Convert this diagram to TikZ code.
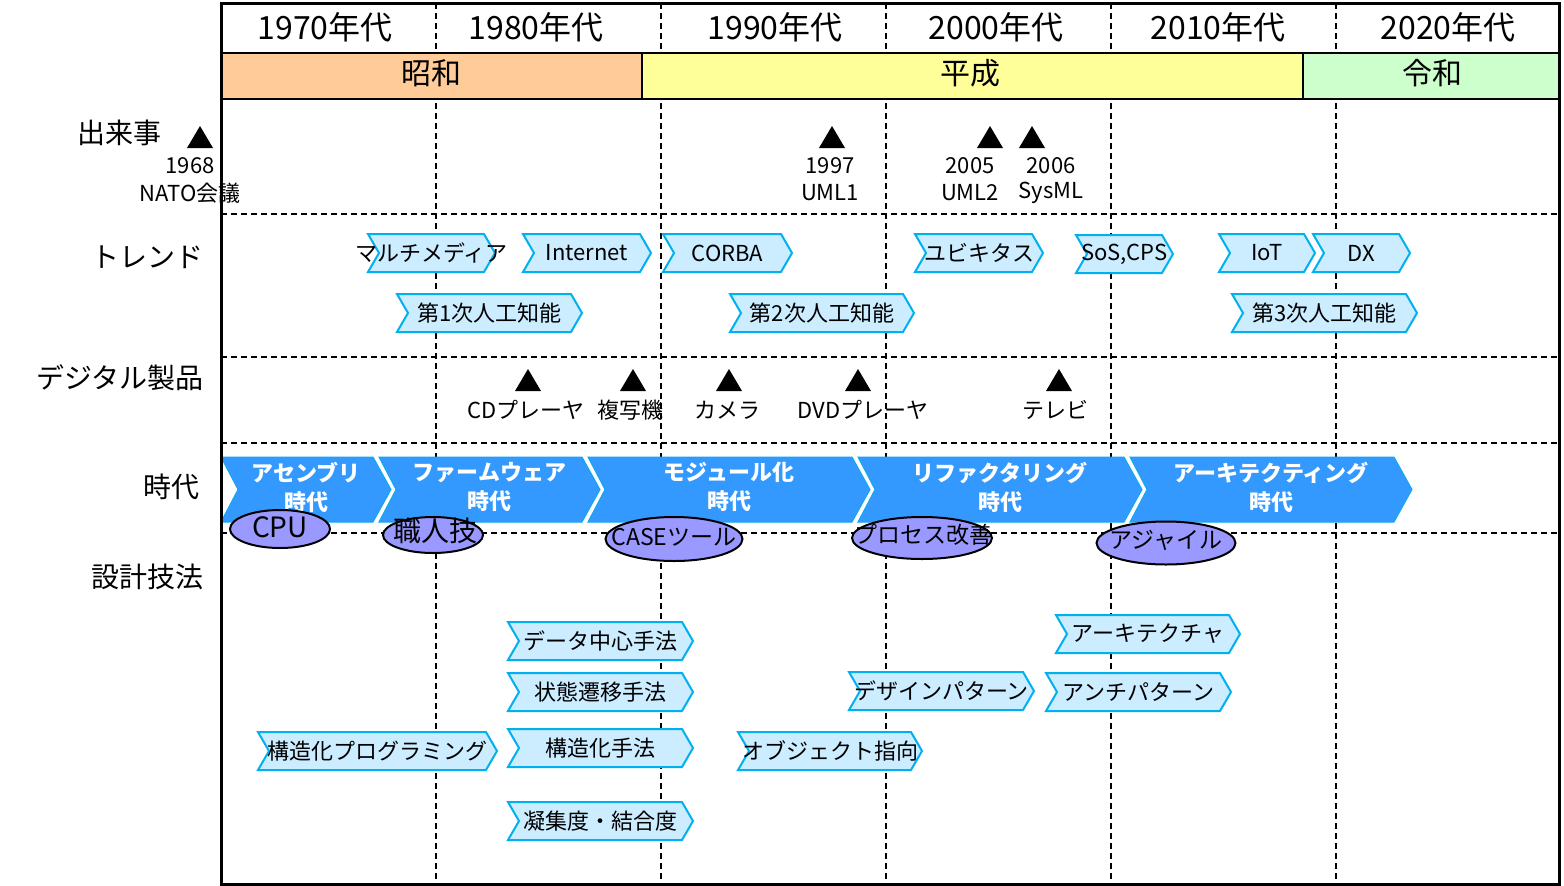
\documentclass[tikz,border=0pt]{standalone}
\usepackage{fontspec}
\setmainfont{Noto Sans CJK JP}
\usetikzlibrary{shapes.geometric}
\definecolor{showa}{HTML}{FFCC99}
\definecolor{heisei}{HTML}{FFFF99}
\definecolor{reiwa}{HTML}{CCFFCC}
\definecolor{lbfill}{HTML}{CCECFF}
\definecolor{lbdraw}{HTML}{00B0F0}
\definecolor{arrblue}{HTML}{3399FF}
\definecolor{arredge}{HTML}{10A8F0}
\definecolor{ellfill}{HTML}{9999FF}
\newcommand\myfs[1]{\fontsize{#1}{#1}\selectfont}
\newcommand\mytri[2]{\fill ({#1-13},{#2+11}) -- ({#1+13},{#2+11}) -- (#1,{#2-11}) -- cycle;}
% light-blue chevron: name, left, point, top, text
\newcommand\lbchev[5]{%
  \path[lb] (#2,#4) -- ({#3-11},#4) -- (#3,{#4+19}) -- ({#3-11},{#4+38}) -- (#2,{#4+38}) -- ({#2+11},{#4+19}) -- cycle;
  \node[lbt] (#1) at ({(#2+#3)/2},{#4+19}) {#5};}
% era arrow: name, left, right, text
\newcommand\myarrow[4]{%
  \path[arr] (#2,457) -- (#3,457) -- ({#3+18},489.5) -- (#3,522) -- (#2,522) -- ({#2+17},489.5) -- cycle;
  \node[arrt] (#1) at ({(#2+#3+18)/2},487) {#4\\時代};}
\begin{document}
\begin{tikzpicture}[x=1pt,y=-1pt,
  dl/.style={line width=1.8pt, dash pattern=on 6pt off 4pt},
  lb/.style={fill=lbfill, draw=lbdraw, line width=2pt, line join=miter},
  lbt/.style={font={\myfs{22}}, inner sep=0pt},
  erabox/.style={draw=black, line width=2pt},
  arr/.style={fill=arrblue, draw=arredge, line width=1pt},
  arrt/.style={font={\fontsize{22}{29}\selectfont\bfseries}, text=white, align=center, inner sep=0pt},
  ell/.style={ellipse, draw=black, line width=2pt, fill=ellfill, inner sep=0pt},
  ellt/.style={inner sep=0pt},
  lab/.style={font={\myfs{28}}, anchor=east, inner sep=0pt},
  evt/.style={font={\myfs{22}}, inner sep=0pt},
  dec/.style={font={\myfs{32}}, inner sep=0pt},
  ert/.style={font={\myfs{30}}, inner sep=0pt}]
\useasboundingbox (0,0) rectangle (1564,886);
\fill[white] (0,0) rectangle (1564,886);

% grid
\foreach \x in {436,661,886,1111,1336} \draw[dl] (\x,3) -- (\x,884);
\foreach \y in {214,357,443,533} \draw[dl] (221,\y) -- (1559,\y);

% header decades
\node[dec] (d70) at (325,27) {1970年代};
\node[dec] (d80) at (536,27) {1980年代};
\node[dec] (d90) at (775,27) {1990年代};
\node[dec] (d00) at (996,27) {2000年代};
\node[dec] (d10) at (1218,27) {2010年代};
\node[dec] (d20) at (1448,27) {2020年代};

% eras
\path[erabox, fill=showa] (221,53) rectangle (642,99);
\path[erabox, fill=heisei] (642,53) rectangle (1303,99);
\path[erabox, fill=reiwa] (1303,53) rectangle (1559,99);
\node[ert] (showa) at (431,73) {昭和};
\node[ert] (heisei) at (970,73) {平成};
\node[ert] (reiwa) at (1432,73) {令和};

% row labels
\node[lab] (lev) at (162,133) {出来事};
\node[lab] (ltr) at (204,257) {トレンド};
\node[lab] (ldg) at (204,378) {デジタル製品};
\node[lab] (lji) at (200,487) {時代};
\node[lab] (lsk) at (204,577) {設計技法};

% events
\mytri{200}{137}
\mytri{832}{137}
\mytri{990}{137}
\mytri{1032}{137}
\node[evt] (e68a) at (190,166) {1968};
\node[evt] (e68b) at (190,193) {NATO会議};
\node[evt] (e97a) at (830,166) {1997};
\node[evt] (e97b) at (830,193) {UML1};
\node[evt] (e05a) at (970,166) {2005};
\node[evt] (e05b) at (970,193) {UML2};
\node[evt] (e06a) at (1051,166) {2006};
\node[evt] (e06b) at (1051,193) {SysML};

% trends
\lbchev{mm}{368}{495}{234}{マルチメディア}
\lbchev{inet}{523}{651}{234}{Internet}
\lbchev{corba}{663}{792}{234}{CORBA}
\lbchev{ubi}{915}{1043}{234}{ユビキタス}
\lbchev{sos}{1076}{1173}{235}{SoS,CPS}
\lbchev{iot}{1219}{1315}{234}{IoT}
\lbchev{dx}{1313}{1410}{234}{DX}
\lbchev{ai1}{397}{582}{294}{第1次人工知能}
\lbchev{ai2}{730}{914}{294}{第2次人工知能}
\lbchev{ai3}{1232}{1417}{294}{第3次人工知能}

% digital products
\mytri{528}{380}
\mytri{633}{380}
\mytri{729}{380}
\mytri{858}{380}
\mytri{1059}{380}
\node[evt] (cd) at (526,410) {CDプレーヤ};
\node[evt] (copy) at (630,410) {複写機};
\node[evt] (cam) at (727,410) {カメラ};
\node[evt] (dvd) at (863,410) {DVDプレーヤ};
\node[evt] (tv) at (1055,410) {テレビ};

% era arrows
\myarrow{a1}{221}{373}{アセンブリ}
\myarrow{a2}{379}{582}{ファームウェア}
\myarrow{a3}{588}{852}{モジュール化}
\myarrow{a4}{858}{1124}{リファクタリング}
\myarrow{a5}{1130}{1394}{アーキテクティング}

% ellipses
\node[ell, minimum width=100pt, minimum height=38pt] (cpu) at (280,529) {};
\node[ellt, font={\myfs{28}}] (cput) at (280,527) {CPU};
\node[ell, minimum width=100pt, minimum height=36pt] (shoku) at (433,535) {};
\node[ellt, font={\myfs{28}}] (shokut) at (435,531) {職人技};
\node[ell, minimum width=137pt, minimum height=44pt] (case) at (674,539) {};
\node[ellt, font={\myfs{23}}] (caset) at (674,537) {CASEツール};
\node[ell, minimum width=140pt, minimum height=42pt] (proc) at (922,538) {};
\node[ellt, font={\myfs{23}}] (proct) at (923,535) {プロセス改善};
\node[ell, minimum width=139pt, minimum height=43pt] (agile) at (1166,543) {};
\node[ellt, font={\myfs{23}}] (agilet) at (1166,540) {アジャイル};

% design methods
\lbchev{dc}{508}{693}{622}{データ中心手法}
\lbchev{stt}{508}{693}{673}{状態遷移手法}
\lbchev{sm}{508}{693}{729}{構造化手法}
\lbchev{coh}{508}{693}{802}{凝集度・結合度}
\lbchev{sp}{258}{497}{732}{構造化プログラミング}
\lbchev{oo}{738}{922}{732}{オブジェクト指向}
\lbchev{arch}{1056}{1240}{615}{アーキテクチャ}
\lbchev{dp}{849}{1034}{672}{デザインパターン}
\lbchev{anti}{1046}{1231}{673}{アンチパターン}

% frame
\draw[line width=3pt] (221,3) rectangle (1559,884);
\end{tikzpicture}
\end{document}
